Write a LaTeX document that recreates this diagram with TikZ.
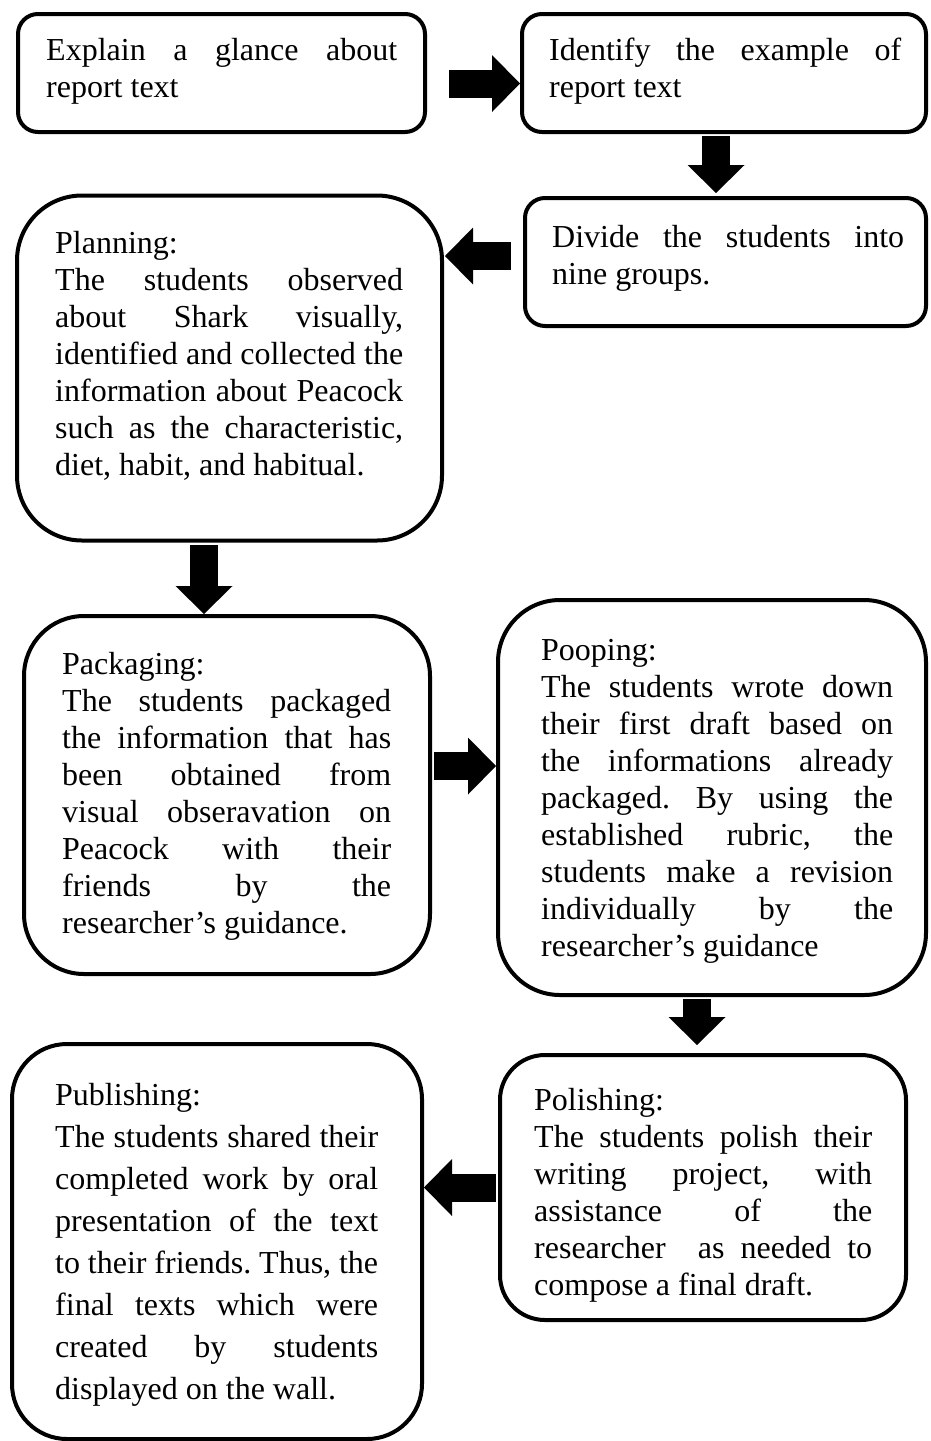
\documentclass[tikz,border=0pt]{standalone}
\usepackage{fontspec}
\setmainfont{Liberation Serif}
\usepackage{tikz}
\usetikzlibrary{arrows.meta, positioning, calc}
\tolerance=10000
\hbadness=10000
\hyphenpenalty=10000
\frenchspacing

\begin{document}
\begin{tikzpicture}[x=1pt, y=-1pt,
  procbox/.style={rectangle, rounded corners=#1, draw=black, line width=4pt,
                  inner sep=0pt, fill=white},
  proctext/.style={text width=#1, align=justify, inner sep=0pt, anchor=base west,
                   font=\fontsize{32}{37}\selectfont},
  blockarrow/.style={line width=28pt, draw=black,
                     -{Triangle[length=28pt, width=57pt, line width=0pt]}}
]
\useasboundingbox (0,0) rectangle (930,1441);

% Top row
\node[procbox=20pt, minimum width=407pt, minimum height=118pt] (explain) at (221.5,73) {};
\node[proctext=351pt] at (46,60) {Explain a glance about\linebreak report text};

\node[procbox=20pt, minimum width=404pt, minimum height=118pt] (identify) at (724,73) {};
\node[proctext=352pt] at (549,60) {Identify the example of\linebreak report text};

% Second row
\node[procbox=20pt, minimum width=401pt, minimum height=128pt] (divide) at (725.5,262) {};
\node[proctext=352pt] at (552,247) {Divide the students into\linebreak nine groups.};

\node[procbox=65pt, minimum width=425pt, minimum height=345pt] (planning) at (229.5,368) {};
\node[proctext=348pt] at (55,253) {Planning:\\
  The students observed\linebreak about Shark visually,\linebreak
  identified and collected the\linebreak information about Peacock\linebreak
  such as the characteristic,\linebreak diet, habit, and habitual.};

% Third row
\node[procbox=60pt, minimum width=406pt, minimum height=358pt] (packaging) at (227,795) {};
\node[proctext=329pt] at (62,674) {Packaging:\\
  The students packaged\linebreak the information that has\linebreak
  been obtained from\linebreak visual obseravation on\linebreak
  Peacock with their\linebreak friends by the\linebreak
  researcher’s guidance.};

\node[procbox=62pt, minimum width=428pt, minimum height=395pt] (pooping) at (712,797.5) {};
\node[proctext=352pt] at (541,660) {Pooping:\\
  The students wrote down\linebreak their first draft based on\linebreak
  the informations already\linebreak packaged. By using the\linebreak
  established rubric, the\linebreak students make a revision\linebreak
  individually by the\linebreak researcher’s guidance};

% Bottom row
\node[procbox=45pt, minimum width=406pt, minimum height=265pt] (polishing) at (703,1187.5) {};
\node[proctext=338pt] at (534,1110) {Polishing:\\
  The students polish their\linebreak writing project, with\linebreak
  assistance of the\linebreak researcher\ \ as needed to\linebreak
  compose a final draft.};

\node[procbox=55pt, minimum width=410pt, minimum height=395pt] (publishing) at (217,1241.5) {};
\node[proctext=323pt, font=\fontsize{32}{42}\selectfont] at (55,1105) {Publishing:\\
  The students shared their\linebreak completed work by oral\linebreak
  presentation of the text\linebreak to their friends. Thus, the\linebreak
  final texts which were\linebreak created by students\linebreak
  displayed on the wall.};

% Arrows
\draw[blockarrow, shorten <=22pt] ([yshift=-10.5pt]explain.east) -- ([yshift=-10.5pt]identify.west);
\draw[blockarrow, shorten <=2pt, shorten >=3pt] ([xshift=-8pt]identify.south) -- ([xshift=-8pt]identify.south |- divide.north);
\draw[blockarrow, shorten <=12pt, shorten >=1pt] ([yshift=6pt]divide.west) -- ([yshift=6pt]divide.west -| planning.east);
\draw[blockarrow, shorten <=2pt] ([xshift=-25.5pt]planning.south) -- ([xshift=-25.5pt]planning.south |- packaging.north);
\draw[blockarrow, shorten <=2pt] ([yshift=29pt]packaging.east) -- ([yshift=29pt]packaging.east -| pooping.west);
\draw[blockarrow, shorten <=2pt, shorten >=8pt] ([xshift=-15pt]pooping.south) -- ([xshift=-15pt]pooping.south |- polishing.north);
\draw[blockarrow, shorten <=2pt] (polishing.west) -- (polishing.west -| publishing.east);
\end{tikzpicture}
\end{document}
